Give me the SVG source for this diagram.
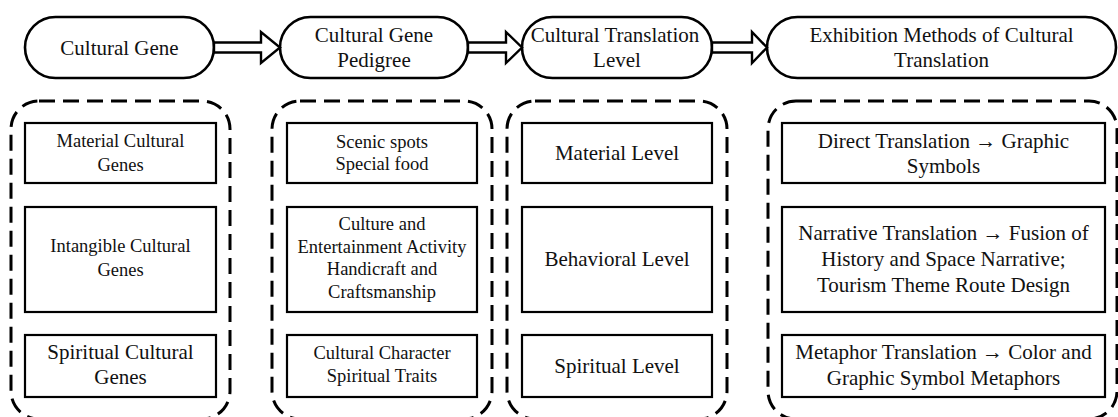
<svg xmlns="http://www.w3.org/2000/svg" width="1118" height="417" viewBox="0 0 1118 417" font-family="'Liberation Serif', 'Times New Roman', Tinos, 'DejaVu Serif', serif">
  <style>
    .pill { fill: #fff; stroke: #000; stroke-width: 2.6; }
    .group { fill: none; stroke: #000; stroke-width: 3; stroke-dasharray: 16 8; }
    .box { fill: #fff; stroke: #000; stroke-width: 2.2; }
    .flow { fill: #fff; stroke: #000; stroke-width: 2.4; stroke-linejoin: miter; }
    text { font-family: 'Liberation Serif', 'Times New Roman', Tinos, 'DejaVu Serif', serif; fill: #111; text-anchor: middle; }
    .t21 { font-size: 21px; }
    .t18 { font-size: 18.5px; }
  </style>
  <rect width="1118" height="417" fill="#fff"/>

  <!-- stage headers -->
  <g id="stage-gene">
    <rect class="pill" x="25" y="17" width="189" height="61" rx="30.5"/>
    <text class="t21" x="119.5" y="55">Cultural Gene</text>
  </g>
  <g id="stage-pedigree">
    <rect class="pill" x="280" y="17" width="188" height="61" rx="30.5"/>
    <text class="t21" x="374" y="42">Cultural Gene</text>
    <text class="t21" x="374" y="67">Pedigree</text>
  </g>
  <g id="stage-level">
    <rect class="pill" x="522" y="17" width="190" height="61" rx="30.5"/>
    <text class="t21" x="615" y="42">Cultural Translation</text>
    <text class="t21" x="617" y="67">Level</text>
  </g>
  <g id="stage-methods">
    <rect class="pill" x="767" y="17" width="349" height="61" rx="30.5"/>
    <text class="t21" x="941.5" y="42">Exhibition Methods of Cultural</text>
    <text class="t21" x="941.5" y="67">Translation</text>
  </g>

  <!-- block arrows between stages -->
  <g id="connectors">
    <path class="flow" d="M214 42.5 H261 V32 L280 47.5 L261 63 V52.5 H214 Z"/>
    <path class="flow" d="M468 42.5 H506 V32 L522 47.5 L506 63 V52.5 H468 Z"/>
    <path class="flow" d="M712 42.5 H752 V32 L767 47.5 L752 63 V52.5 H712 Z"/>
  </g>

  <!-- column 1: cultural genes -->
  <g id="col-gene">
    <rect class="group" x="11" y="101" width="219" height="318" rx="28"/>
    <g id="gene-material">
      <rect class="box" x="25" y="123" width="191" height="60"/>
      <text class="t18" x="120.5" y="147">Material Cultural</text>
      <text class="t18" x="120.5" y="171">Genes</text>
    </g>
    <g id="gene-intangible">
      <rect class="box" x="25" y="207" width="191" height="105"/>
      <text class="t18" x="120.5" y="252">Intangible Cultural</text>
      <text class="t18" x="120.5" y="276">Genes</text>
    </g>
    <g id="gene-spiritual">
      <rect class="box" x="25" y="335" width="191" height="62"/>
      <text class="t21" x="120.5" y="359">Spiritual Cultural</text>
      <text class="t21" x="120.5" y="384">Genes</text>
    </g>
  </g>

  <!-- column 2: pedigree -->
  <g id="col-pedigree">
    <rect class="group" x="272" y="101" width="220" height="318" rx="28"/>
    <g id="pedigree-material">
      <rect class="box" x="287" y="123" width="190" height="60"/>
      <text class="t18" x="382" y="148">Scenic spots</text>
      <text class="t18" x="382" y="170">Special food</text>
    </g>
    <g id="pedigree-behavior">
      <rect class="box" x="287" y="207" width="190" height="105"/>
      <text class="t18" x="382" y="230">Culture and</text>
      <text class="t18" x="382" y="252.5">Entertainment Activity</text>
      <text class="t18" x="382" y="275">Handicraft and</text>
      <text class="t18" x="382" y="297.5">Craftsmanship</text>
    </g>
    <g id="pedigree-spirit">
      <rect class="box" x="287" y="335" width="190" height="62"/>
      <text class="t18" x="382" y="359">Cultural Character</text>
      <text class="t18" x="382" y="382">Spiritual Traits</text>
    </g>
  </g>

  <!-- column 3: translation levels -->
  <g id="col-level">
    <rect class="group" x="507" y="101" width="220" height="318" rx="28"/>
    <g id="level-material">
      <rect class="box" x="522" y="123" width="190" height="60"/>
      <text class="t21" x="617" y="160">Material Level</text>
    </g>
    <g id="level-behavioral">
      <rect class="box" x="522" y="207" width="190" height="105"/>
      <text class="t21" x="617" y="266">Behavioral Level</text>
    </g>
    <g id="level-spiritual">
      <rect class="box" x="522" y="335" width="190" height="62"/>
      <text class="t21" x="617" y="373">Spiritual Level</text>
    </g>
  </g>

  <!-- column 4: exhibition methods -->
  <g id="col-methods">
    <rect class="group" x="768" y="101" width="349" height="318" rx="28"/>
    <g id="method-direct">
      <rect class="box" x="782" y="123" width="323" height="60"/>
      <text class="t21" x="943.5" y="148">Direct Translation → Graphic</text>
      <text class="t21" x="943.5" y="173">Symbols</text>
    </g>
    <g id="method-narrative">
      <rect class="box" x="782" y="207" width="323" height="105"/>
      <text class="t21" x="943.5" y="240">Narrative Translation → Fusion of</text>
      <text class="t21" x="943.5" y="266">History and Space Narrative;</text>
      <text class="t21" x="943.5" y="292">Tourism Theme Route Design</text>
    </g>
    <g id="method-metaphor">
      <rect class="box" x="782" y="335" width="323" height="62"/>
      <text class="t21" x="943.5" y="359">Metaphor Translation → Color and</text>
      <text class="t21" x="943.5" y="385">Graphic Symbol Metaphors</text>
    </g>
  </g>
</svg>
